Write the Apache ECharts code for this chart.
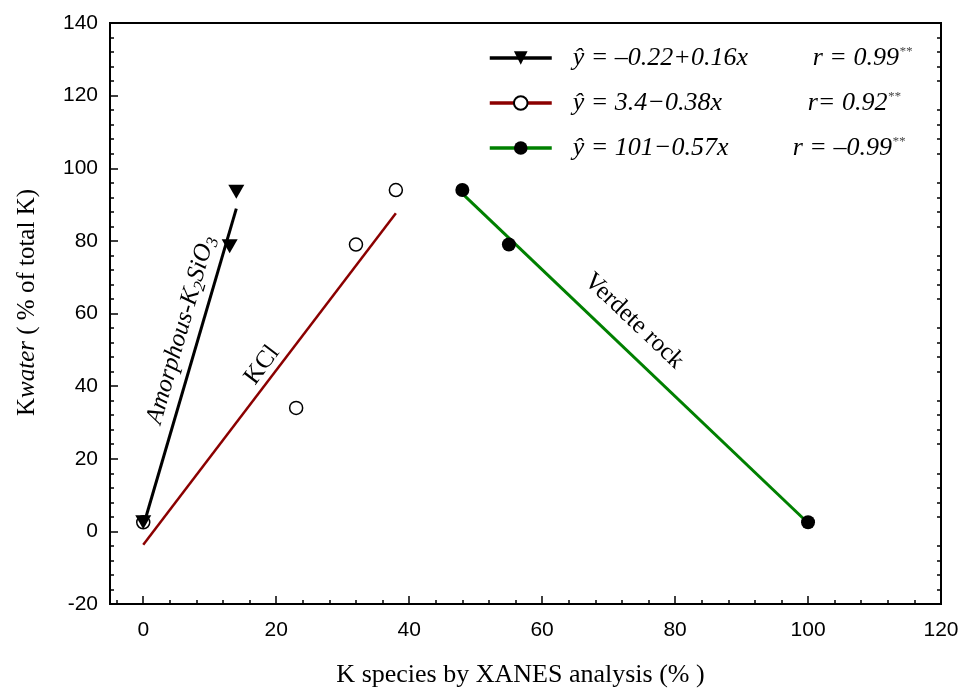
<!DOCTYPE html>
<html>
<head>
<meta charset="utf-8">
<title>Kwater vs K species by XANES</title>
<script src="https://cdn.jsdelivr.net/npm/echarts@6/dist/echarts.min.js"></script>
<style>
  html, body { margin: 0; padding: 0; background: #fff; }
  #chart { width: 964px; height: 694px; }
</style>
</head>
<body>
<div id="chart"></div>
<script>
// ---- data ----
const seriesNames = ['Amorphous-K2SiO3', 'KCl', 'Verdete rock'];

// measured points (x: K species by XANES, %; y: Kwater, % of total K)
const amorphX = [0, 13, 14];
const amorphY = [2.5, 78.5, 93.5];
const kclX = [0, 23, 32, 38];
const kclY = [2.5, 34, 79, 94];
const verdeteX = [48, 55, 100];
const verdeteY = [94, 79, 2.5];

// fitted regression lines (end points)
const amorphFitX = [0, 14];
const amorphFitY = [1.4, 88.9];
const kclFitX = [0, 38];
const kclFitY = [-3.7, 87.6];
const verdeteFitX = [48, 100];
const verdeteFitY = [93.0, 2.3];

// legend equations and correlation coefficients
const legendEq = ['ŷ = –0.22+0.16x', 'ŷ = 3.4−0.38x', 'ŷ = 101−0.57x'];
const legendR = ['r = 0.99', 'r= 0.92', 'r = –0.99'];
const legendSig = ['**', '**', '**'];

// axis ticks
const xMajorTicks = [0, 20, 40, 60, 80, 100, 120];
const xMinorTicks = [-4, 4, 8, 12, 16, 24, 28, 32, 36, 44, 48, 52, 56, 64, 68, 72, 76,
  84, 88, 92, 96, 104, 108, 112, 116];
const yRightTicks = [-16, -12, -8, -4, 4, 8, 12, 16, 24, 28, 32, 36, 44, 48, 52, 56,
  64, 68, 72, 76, 84, 88, 92, 96, 104, 108, 112, 116, 124, 128, 132, 136];

// in-plot curve labels: [x, y, rotation]
const labelAmorph = [5.7, 55.5, 74];
const labelKcl = [17.9, 45.8, 53];
const labelVerdete = [73.8, 57.9, -43.5];

const zip = (xs, ys) => xs.map((x, i) => [x, ys[i]]);

const serif = '"Liberation Serif", "Times New Roman", serif';
const sans = '"Liberation Sans", Arial, sans-serif';

const chart = echarts.init(document.getElementById('chart'), null, { renderer: 'canvas' });

const tickStyle = { color: '#000', width: 1.5 };

const option = {
  animation: false,
  backgroundColor: '#fff',
  grid: {
    left: 110, right: 23, top: 23, bottom: 90,
    show: true, borderColor: '#000', borderWidth: 2,
    outerBoundsMode: 'none'
  },
  legend: {
    data: seriesNames.map((n, i) => ({
      name: n,
      itemStyle: { color: '#000', borderColor: '#000', opacity: 1 },
      lineStyle: { width: 3.5 }
    })),
    orient: 'vertical',
    left: 483,
    top: 40,
    itemWidth: 62,
    itemHeight: 17,
    itemGap: 19,
    selectedMode: false,
    formatter: function (name) {
      const i = seriesNames.indexOf(name);
      return '{g| }{e' + i + '|' + legendEq[i] + '}{r|' + legendR[i] + '}{s|' + legendSig[i] + '}';
    },
    textStyle: {
      fontFamily: serif,
      fontStyle: 'italic',
      fontSize: 26,
      color: '#000',
      rich: {
        g: { width: 16, fontSize: 26, lineHeight: 26 },
        e0: { width: 240, fontFamily: serif, fontStyle: 'italic', fontSize: 26, lineHeight: 26 },
        e1: { width: 235, fontFamily: serif, fontStyle: 'italic', fontSize: 26, lineHeight: 26 },
        e2: { width: 220, fontFamily: serif, fontStyle: 'italic', fontSize: 26, lineHeight: 26 },
        r: { fontFamily: serif, fontStyle: 'italic', fontSize: 26, lineHeight: 26 },
        s: { fontFamily: serif, fontStyle: 'italic', fontSize: 13, lineHeight: 26, verticalAlign: 'top', color: '#444' }
      }
    }
  },
  xAxis: [
    {
      type: 'value', min: -5, max: 120, position: 'bottom',
      name: 'K species by XANES analysis (% )',
      nameLocation: 'middle', nameGap: 58,
      nameTextStyle: { fontFamily: serif, fontSize: 26, color: '#000', padding: [0, 10, 0, 0] },
      axisLine: { show: true, onZero: false, lineStyle: { color: '#000', width: 2 } },
      axisTick: { show: true, inside: true, length: 8, customValues: xMajorTicks, lineStyle: tickStyle },
      axisLabel: { show: true, customValues: xMajorTicks, margin: 16, fontFamily: sans, fontSize: 21, color: '#000' },
      splitLine: { show: false }
    },
    {
      type: 'value', min: -5, max: 120, position: 'bottom',
      axisLine: { show: false, onZero: false },
      axisTick: { show: true, inside: true, length: 4, customValues: xMinorTicks, lineStyle: tickStyle },
      axisLabel: { show: false },
      splitLine: { show: false }
    }
  ],
  yAxis: [
    {
      type: 'value', min: -20, max: 140, interval: 20, position: 'left',
      name: '{n|K}{i|water}{n| ( % of total K)}',
      nameLocation: 'middle', nameGap: 70,
      nameTextStyle: {
        fontFamily: serif, fontSize: 25, color: '#000',
        padding: [0, 0, 0, 22],
        rich: {
          n: { fontFamily: serif, fontSize: 25, color: '#000' },
          i: { fontFamily: serif, fontSize: 25, fontStyle: 'italic', color: '#000' }
        }
      },
      axisLine: { show: true, onZero: false, lineStyle: { color: '#000', width: 2 } },
      axisTick: { show: true, inside: true, length: 8, lineStyle: tickStyle },
      minorTick: { show: true, splitNumber: 5, length: 4, lineStyle: tickStyle },
      axisLabel: { margin: 12, fontFamily: sans, fontSize: 21, color: '#000' },
      splitLine: { show: false },
      minorSplitLine: { show: false }
    },
    {
      type: 'value', min: -20, max: 140, position: 'right',
      axisLine: { show: false, onZero: false },
      axisTick: { show: true, inside: true, length: 4, customValues: yRightTicks, lineStyle: tickStyle },
      axisLabel: { show: false },
      splitLine: { show: false }
    }
  ],
  series: [
    // regression lines (these carry the legend entries)
    {
      name: seriesNames[0], type: 'line', data: zip(amorphFitX, amorphFitY),
      symbol: 'triangle', symbolRotate: 180, showSymbol: false,
      itemStyle: { color: '#000' },
      lineStyle: { color: '#000', width: 3 }, silent: true, z: 2
    },
    {
      name: seriesNames[1], type: 'line', data: zip(kclFitX, kclFitY),
      symbol: 'emptyCircle', showSymbol: false,
      itemStyle: { color: '#000' },
      lineStyle: { color: '#8b0000', width: 2.5 }, silent: true, z: 2
    },
    {
      name: seriesNames[2], type: 'line', data: zip(verdeteFitX, verdeteFitY),
      symbol: 'circle', showSymbol: false,
      itemStyle: { color: '#000' },
      lineStyle: { color: '#008000', width: 3 }, silent: true, z: 2
    },
    // measured points
    {
      name: 'KCl points', type: 'scatter', data: zip(kclX, kclY),
      symbol: 'circle', symbolSize: 13,
      itemStyle: { color: '#fff', borderColor: '#000', borderWidth: 1.5, opacity: 1 }, silent: true, z: 3
    },
    {
      name: 'Amorphous points', type: 'scatter', data: zip(amorphX, amorphY),
      symbol: 'triangle', symbolRotate: 180, symbolSize: [16, 14],
      itemStyle: { color: '#000', opacity: 1 }, silent: true, z: 4
    },
    {
      name: 'Verdete points', type: 'scatter', data: zip(verdeteX, verdeteY),
      symbol: 'circle', symbolSize: 14,
      itemStyle: { color: '#000', opacity: 1 }, silent: true, z: 4
    },
    // curve labels
    {
      name: 'curve labels', type: 'scatter', symbolSize: 0, silent: true, z: 5,
      itemStyle: { opacity: 1 },
      data: [
        {
          value: labelAmorph.slice(0, 2),
          label: {
            show: true, position: 'inside', rotate: labelAmorph[2], opacity: 1,
            formatter: '{t|Amorphous-K}{b|2}{t|SiO}{b|3}',
            rich: {
              t: { fontFamily: serif, fontStyle: 'italic', fontSize: 25, color: '#000', lineHeight: 30 },
              b: { fontFamily: serif, fontStyle: 'italic', fontSize: 17, color: '#000', lineHeight: 30, verticalAlign: 'bottom' }
            }
          }
        },
        {
          value: labelKcl.slice(0, 2),
          label: {
            show: true, position: 'inside', rotate: labelKcl[2], opacity: 1,
            formatter: 'KCl',
            fontFamily: serif, fontSize: 25, color: '#000'
          }
        },
        {
          value: labelVerdete.slice(0, 2),
          label: {
            show: true, position: 'inside', rotate: labelVerdete[2], opacity: 1,
            formatter: 'Verdete rock',
            fontFamily: serif, fontSize: 25, color: '#000'
          }
        }
      ]
    }
  ]
};

chart.setOption(option);
</script>
</body>
</html>
